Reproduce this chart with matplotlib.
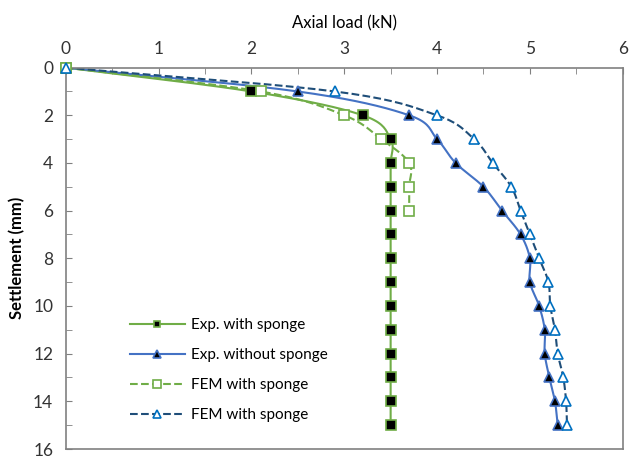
import numpy as np
import matplotlib
matplotlib.use('Agg')
import matplotlib.pyplot as plt
from matplotlib.ticker import MultipleLocator

# --- dados ---
settle_exp_sp = [0, 1, 2, 3, 4, 5, 6, 7, 8, 9, 10, 11, 12, 13, 14, 15]
load_exp_sp = [0, 2.0, 3.2, 3.5, 3.5, 3.5, 3.5, 3.5, 3.5, 3.5, 3.5, 3.5, 3.5, 3.5, 3.5, 3.5]

settle_exp_nosp = [0, 1, 2, 3, 4, 5, 6, 7, 8, 9, 10, 11, 12, 13, 14, 15]
load_exp_nosp = [0, 2.5, 3.7, 4.0, 4.2, 4.5, 4.7, 4.9, 5.0, 5.0, 5.1, 5.16, 5.16, 5.21, 5.27, 5.3]

settle_fem_sp = [0, 1, 2, 3, 4, 5, 6]
load_fem_sp = [0, 2.1, 3.0, 3.4, 3.7, 3.7, 3.7]

settle_fem_nosp = [0, 1, 2, 3, 4, 5, 6, 7, 8, 9, 10, 11, 12, 13, 14, 15]
load_fem_nosp = [0, 2.9, 4.0, 4.4, 4.6, 4.8, 4.9, 5.0, 5.1, 5.2, 5.22, 5.27, 5.3, 5.36, 5.39, 5.4]

labels = ['Exp. with sponge', 'Exp. without sponge', 'FEM with sponge', 'FEM with sponge']

GREEN = '#70AD47'
BLUE = '#4472C4'
LBLUE = '#0070C0'
DBLUE = '#1F4E79'


def suaviza(x, y, n=20):
    # linha suavizada estilo Excel (Catmull-Rom)
    x = np.asarray(x, float)
    y = np.asarray(y, float)
    px = np.concatenate([[2 * x[0] - x[1]], x, [2 * x[-1] - x[-2]]])
    py = np.concatenate([[2 * y[0] - y[1]], y, [2 * y[-1] - y[-2]]])
    xs, ys = [], []
    t = np.linspace(0, 1, n, endpoint=False)
    for i in range(1, len(px) - 2):
        for p, out in ((px, xs), (py, ys)):
            p0, p1, p2, p3 = p[i - 1], p[i], p[i + 1], p[i + 2]
            out.extend(0.5 * (2 * p1 + (-p0 + p2) * t + (2 * p0 - 5 * p1 + 4 * p2 - p3) * t ** 2
                              + (-p0 + 3 * p1 - 3 * p2 + p3) * t ** 3))
    xs.append(x[-1])
    ys.append(y[-1])
    return xs, ys


plt.rcParams['font.family'] = ['Lato', 'DejaVu Sans']
fig = plt.figure(figsize=(6.29, 4.57), dpi=100)
ax = fig.add_axes([0.1045, 0.0175, 0.8855, 0.8345])

series = [
    (load_exp_sp, settle_exp_sp, GREEN, '-', 's', 'black', GREEN, 6.5),
    (load_exp_nosp, settle_exp_nosp, BLUE, '-', '^', 'black', BLUE, 7),
    (load_fem_sp, settle_fem_sp, GREEN, '--', 's', 'white', GREEN, 7.5),
    (load_fem_nosp, settle_fem_nosp, DBLUE, '--', '^', 'white', LBLUE, 7.5),
]

for (xv, yv, lc, ls, mk, fc, ec, ms), lab in zip(series, labels):
    sx, sy = suaviza(xv, yv)
    ax.plot(sx, sy, color=lc, ls=ls, lw=1.5)
    ax.plot(xv, yv, ls='none', marker=mk, mfc=fc, mec=ec, mew=1.2, ms=ms, clip_on=False, zorder=5)
    ax.plot([], [], color=lc, ls=ls, lw=1.5, marker=mk, mfc=fc, mec=ec, mew=1.2, ms=ms - 1.5, label=lab)

ax.set_xlim(0, 6)
ax.set_ylim(16, 0)
ax.xaxis.set_ticks_position('top')
ax.xaxis.set_label_position('top')
ax.xaxis.set_major_locator(MultipleLocator(1))
ax.xaxis.set_minor_locator(MultipleLocator(0.5))
ax.yaxis.set_major_locator(MultipleLocator(2))
ax.yaxis.set_minor_locator(MultipleLocator(1))
ax.tick_params(which='both', direction='in', length=4, color='#808080', labelsize=12.5, colors='#333333')
ax.tick_params(axis='x', pad=8)
ax.tick_params(axis='y', pad=9)
for s in ax.spines.values():
    s.set_color('#808080')
    s.set_linewidth(1.2)

ax.set_xlabel('Axial load (kN)', fontsize=12, labelpad=9)
ax.set_ylabel('Settlement (mm)', fontsize=12, fontweight='bold', labelpad=6)

ax.legend(loc='lower left', bbox_to_anchor=(0.09, 0.034), frameon=False, fontsize=11,
          handlelength=3.6, labelspacing=1.05, handletextpad=0.4)

fig.savefig('out.png', dpi=100)
